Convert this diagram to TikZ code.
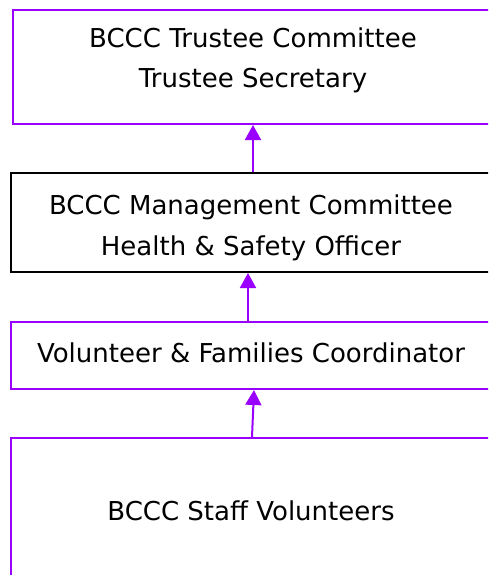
\documentclass[tikz,border=0pt]{standalone}
\usepackage{fontspec}
\setmainfont{DejaVu Sans}
\usepackage{xcolor}
\usetikzlibrary{arrows.meta}

\definecolor{chainviolet}{RGB}{153,0,255}

\tikzset{
  rolebox/.style={draw=chainviolet, line width=2pt, minimum width=480pt, align=center, inner sep=0pt,
    font=\fontsize{26}{40.5}\selectfont},
  reportsto/.style={draw=chainviolet, line width=2pt, -{Triangle[width=16pt,length=15pt]}},
}

\begin{document}
\begin{tikzpicture}[x=1pt,y=1pt,yscale=-1,xscale=1]
		\useasboundingbox (0,0) rectangle (488,575);
		\clip (0,0) rectangle (488,575);

		% Box Node
		\node (trustee) at (253,67) [rolebox, minimum height=114pt, text height=58pt, text depth=16pt] {BCCC Trustee Committee\\Trustee Secretary};
		% Box Node
		\node (mgmt) at (251,222.5) [rolebox, draw=black, minimum height=99pt, text height=65pt, text depth=0pt] {BCCC Management Committee\\Health \& Safety Officer};
		% Box Node
		\node (coord) at (251,355.5) [rolebox, minimum height=67pt, text height=19pt, text depth=6pt] {Volunteer \& Families Coordinator};
		% Box Node
		\node (staff) at (251,510) [rolebox, minimum height=144pt, text height=20pt, text depth=0pt] {BCCC Staff Volunteers};

		% Connection
		\draw[reportsto] ([xshift=2pt]mgmt.north) -- (trustee.south);
		% Connection
		\draw[reportsto] ([xshift=-3pt]coord.north) -- ([xshift=-3pt]mgmt.south);
		% Connection
		\draw[reportsto] ([xshift=1pt]staff.north) -- ([xshift=3pt]coord.south);
\end{tikzpicture}
\end{document}
